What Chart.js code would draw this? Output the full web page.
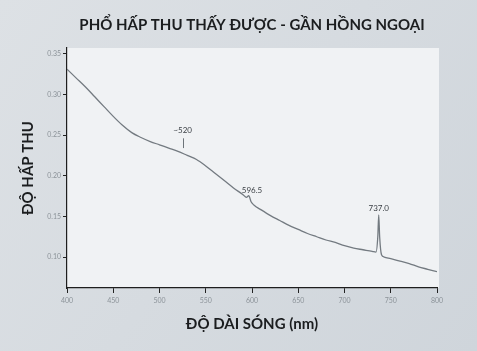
<!DOCTYPE html>
<html>
<head>
<meta charset="utf-8">
<script src="https://cdn.jsdelivr.net/npm/chart.js@4.4.3/dist/chart.umd.min.js"></script>
<style>
  html, body { margin: 0; padding: 0; background: #d6dbe0; }
  canvas { display: block; }
</style>
</head>
<body>
<canvas id="chart" width="477" height="351"></canvas>
<script>

// Wavelength (nm) and absorbance.
const wavelengths = [400, 410, 420, 430, 440, 450, 460, 470, 480, 490, 500, 510, 520, 530, 540, 550, 560, 570, 580, 590, 594, 596.5, 599, 602, 610, 620, 630, 640, 650, 660, 670, 680, 690, 700, 710, 720, 730, 734, 736, 737, 738, 740, 743, 750, 760, 770, 780, 790, 800]
const absorbance = [0.331, 0.320, 0.309, 0.297, 0.285, 0.273, 0.262, 0.253, 0.247, 0.242, 0.238, 0.234, 0.230, 0.225, 0.220, 0.212, 0.203, 0.194, 0.185, 0.177, 0.1735, 0.1755, 0.168, 0.164, 0.158, 0.151, 0.145, 0.139, 0.134, 0.129, 0.125, 0.121, 0.118, 0.114, 0.111, 0.109, 0.107, 0.106, 0.125, 0.152, 0.125, 0.103, 0.100, 0.098, 0.095, 0.092, 0.088, 0.085, 0.082]

const yTicks = [0.10, 0.15, 0.20, 0.25, 0.30, 0.35]

// Peak labels: [text, wavelength, absorbance of label]
const peakLabels = [
  ['~520', 525, 0.256],
  ['596.5', 600, 0.182],
  ['737.0', 737, 0.160]
]

const points = wavelengths.map((x, i) => ({ x, y: absorbance[i] }))

// Page and panel backgrounds.
const backdrop = {
  id: 'backdrop',
  beforeDraw(chart) {
    const { ctx, chartArea: a, width, height } = chart
    ctx.save()
    const g = ctx.createLinearGradient(0, 0, width, height)
    g.addColorStop(0, '#dde1e5')
    g.addColorStop(1, '#cfd5db')
    ctx.fillStyle = g
    ctx.fillRect(0, 0, width, height)
    ctx.fillStyle = '#f0f2f4'
    ctx.fillRect(a.left, a.top, a.right - a.left + 2, a.bottom - a.top)
    ctx.restore()
  }
}

// Peak labels with the small marker under ~520.
const peaks = {
  id: 'peaks',
  afterDatasetsDraw(chart) {
    const { ctx, scales: { x, y } } = chart
    ctx.save()
    ctx.font = '8px Lato, "Open Sans", sans-serif'
    ctx.fillStyle = '#3a3f44'
    ctx.textAlign = 'center'
    ctx.textBaseline = 'middle'
    peakLabels.forEach(([text, nm, val]) => {
      ctx.fillText(text, x.getPixelForValue(nm), y.getPixelForValue(val))
    })
    const px = Math.round(x.getPixelForValue(525)) + 0.5
    ctx.strokeStyle = '#6c7379'
    ctx.lineWidth = 1
    ctx.beginPath()
    ctx.moveTo(px, y.getPixelForValue(0.246))
    ctx.lineTo(px, y.getPixelForValue(0.234))
    ctx.stroke()
    ctx.restore()
  }
}

const tickFont = { family: 'Lato, "Open Sans", sans-serif', size: 7 }

new Chart(document.getElementById('chart'), {
  type: 'line',
  data: {
    datasets: [{
      data: points,
      borderColor: '#737a80',
      borderWidth: 1.3,
      pointRadius: 0,
      fill: false,
      cubicInterpolationMode: 'monotone'
    }]
  },
  options: {
    responsive: false,
    animation: false,
    events: [],
    layout: { padding: { top: 0, right: 40, bottom: 0, left: 0 } },
    plugins: {
      legend: { display: false },
      tooltip: { enabled: false },
      title: {
        display: true,
        fullSize: false,
        text: 'PHỔ HẤP THU THẤY ĐƯỢC - GẦN HỒNG NGOẠI',
        color: '#1b1d1f',
        font: { family: 'Lato, "Open Sans", sans-serif', size: 15, weight: 'bold', lineHeight: 1.2 },
        padding: { top: 16, bottom: 14 }
      }
    },
    scales: {
      x: {
        type: 'linear',
        min: 400,
        max: 800,
        afterFit: s => { s.height = 63 },
        ticks: { stepSize: 50, color: '#8c9399', font: tickFont, padding: 4, maxRotation: 0 },
        grid: { drawOnChartArea: false, drawTicks: true, tickLength: 5, tickColor: '#222' },
        border: { color: '#1e1e1e', width: 1.2 },
        title: {
          display: true,
          text: 'ĐỘ DÀI SÓNG (nm)',
          color: '#1b1d1f',
          font: { family: 'Lato, "Open Sans", sans-serif', size: 15, weight: 'bold', lineHeight: 1.2 },
          padding: { top: 0, bottom: 18 }
        }
      },
      y: {
        min: 0.062,
        max: 0.357,
        afterFit: s => { s.width = 67 },
        afterBuildTicks: s => { s.ticks = yTicks.map(value => ({ value })) },
        ticks: { color: '#8c9399', font: tickFont, padding: 2, callback: v => v.toFixed(2) },
        grid: { drawOnChartArea: false, drawTicks: true, tickLength: 4, tickColor: '#222' },
        border: { color: '#1e1e1e', width: 1.2 },
        title: {
          display: true,
          text: 'ĐỘ HẤP THU',
          color: '#1b1d1f',
          font: { family: 'Lato, "Open Sans", sans-serif', size: 15, weight: 'bold', lineHeight: 1.2 },
          padding: { top: 19, bottom: 0 }
        }
      }
    }
  },
  plugins: [backdrop, peaks]
})
</script>
</body>
</html>
